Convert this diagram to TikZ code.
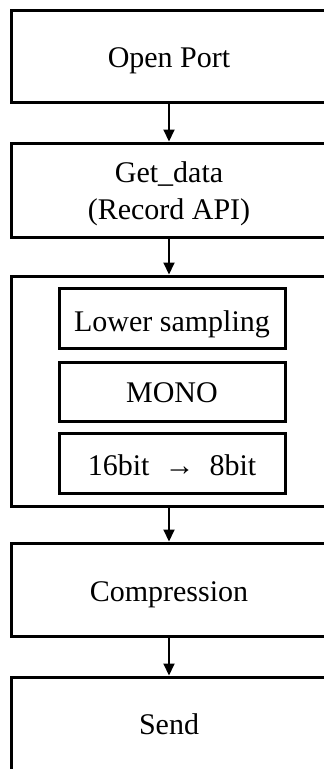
\documentclass[tikz,border=0pt]{standalone}
\usepackage{fontspec}
\setmainfont{Liberation Serif}
\usetikzlibrary{arrows.meta}
\begin{document}
\begin{tikzpicture}[x=1pt,y=-1pt,
  stagebox/.style={draw=black,line width=3pt,rectangle,minimum width=316pt,inner sep=0pt,
    align=center,text height=22pt,text depth=0pt,font=\fontsize{30}{36.5}\selectfont},
  subbox/.style={draw=black,line width=3pt,rectangle,minimum width=226pt,inner sep=0pt,
    align=center,text height=22pt,text depth=0pt,font=\fontsize{30}{36}\selectfont},
  flow/.style={line width=2pt,-{Triangle[length=12pt,width=11pt]}}]
  \useasboundingbox (0,0) rectangle (324,769);
  \clip (0,0) rectangle (324,769);
  % main stages
  \node[stagebox,minimum height=92pt,text height=22.6pt] (open) at (169,56) {Open Port};
  \node[stagebox,minimum height=94pt,text height=58.6pt] (get) at (169,190) {Get\_data\\(Record API)};
  \node[stagebox,minimum height=230pt] (proc) at (169,391) {};
  \node[stagebox,minimum height=93pt,text height=23pt] (comp) at (169,589.5) {Compression};
  \node[stagebox,minimum height=93pt,text height=21pt] (send) at (169,723.5) {Send};
  % processing steps inside the middle stage
  \node[subbox,minimum height=60pt,text height=26pt] (lower) at (172,318) {Lower sampling};
  \node[subbox,minimum height=59pt,text height=21pt] (mono) at (172,391.5) {MONO};
  \node[subbox,minimum height=60pt,text height=25pt] (bits) at (172,463) {16bit\enspace →\enspace 8bit};
  % connectors
  \draw[flow] (open.south) -- (get.north);
  \draw[flow] (get.south) -- (proc.north);
  \draw[flow] (proc.south) -- (comp.north);
  \draw[flow] (comp.south) -- (send.north);
\end{tikzpicture}
\end{document}
